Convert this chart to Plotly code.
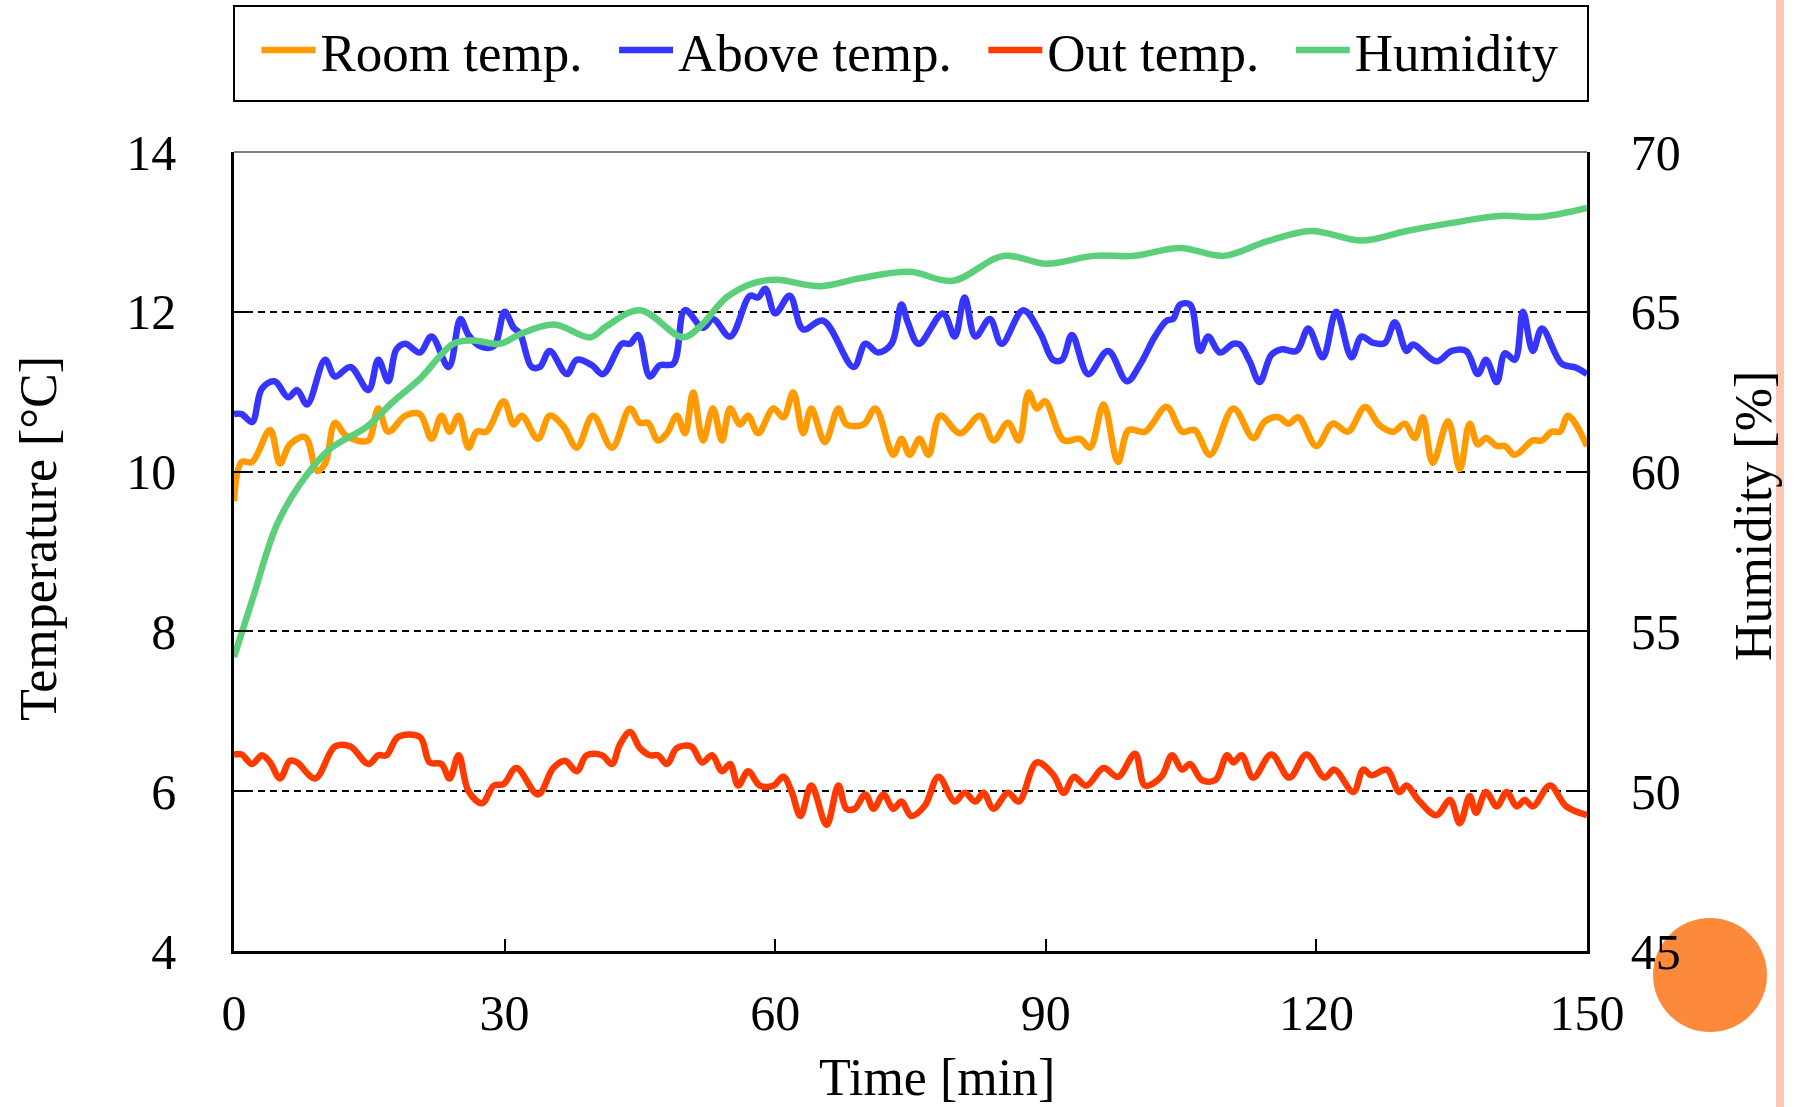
import plotly.graph_objects as go

# ---- data (time in minutes, value) ----
room_temp = [(0,9.63),(0.85,10.12),(2,10.12),(4,10.52),(5.1,10.10),(6.2,10.34),(7.9,10.43),(9.2,10.01),(10.1,10.10),
    (11.2,10.61),(12.3,10.46),(13.6,10.39),(14.9,10.39),(16,10.79),(17.1,10.50),(19,10.70),(20.6,10.72),(21.9,10.41),
    (23,10.70),(23.9,10.50),(24.9,10.70),(26,10.30),(26.9,10.50),(28,10.50),(29.9,10.88),(31,10.59),(31.9,10.70),
    (33.7,10.41),(35,10.70),(36.5,10.57),(38,10.30),(39.8,10.70),(41.9,10.30),(43.9,10.79),(45,10.61),(45.9,10.61),
    (47,10.39),(48,10.48),(49.1,10.70),(50,10.48),(50.9,10.99),(52,10.39),(53.1,10.79),(54.1,10.39),(55,10.79),
    (56.1,10.59),(57,10.70),(58.1,10.48),(59.8,10.79),(60.9,10.68),(62,10.99),(63.1,10.48),(64,10.79),(65.5,10.37),
    (67,10.79),(67.9,10.59),(69.8,10.59),(71.1,10.79),(73.1,10.21),(74,10.41),(74.9,10.21),(76,10.41),(77,10.21),
    (78.3,10.70),(80.5,10.48),(82.7,10.70),(84.2,10.39),(85.8,10.61),(87,10.39),(88.1,10.99),(89,10.79),(89.9,10.88),
    (92,10.39),(93.8,10.41),(94.9,10.30),(96.4,10.84),(98,10.12),(99.2,10.52),(101,10.50),(103.4,10.81),(105.1,10.50),
    (106.5,10.52),(108.2,10.21),(110.8,10.79),(113,10.42),(114.3,10.63),(115.8,10.68),(116.9,10.60),(118,10.68),
    (120,10.32),(121.8,10.60),(123.5,10.50),(125.4,10.81),(127,10.58),(128.5,10.50),(129.8,10.60),(130.9,10.42),
    (131.8,10.68),(132.9,10.11),(134.6,10.63),(135.9,10.03),(137,10.60),(137.9,10.34),(138.8,10.42),(140,10.32),
    (140.9,10.32),(142,10.21),(144,10.39),(145,10.39),(146.1,10.50),(147,10.50),(147.9,10.70),(150,10.32)]

above_temp = [(0,10.72),(0.85,10.72),(2,10.62),(3.1,11.04),(4.5,11.13),(6,10.93),(7,11.02),(8.1,10.84),(10.1,11.40),
    (11.2,11.19),(12.9,11.31),(14.9,11.02),(16,11.40),(17.1,11.13),(18,11.53),(19,11.60),(20.6,11.49),(21.9,11.69),
    (23.8,11.31),(25.1,11.91),(26,11.71),(27.3,11.57),(28.8,11.57),(30,12.0),(31,11.80),(31.7,11.73),(33,11.31),
    (33.9,11.31),(35,11.51),(36.9,11.22),(38,11.40),(39.7,11.33),(40.9,11.22),(43,11.60),(43.9,11.60),(44.8,11.71),
    (46.1,11.19),(47.2,11.33),(48.7,11.35),(50,12.02),(52,11.80),(53.1,11.91),(55,11.69),(57.2,12.20),(58.1,12.18),
    (58.9,12.29),(60,11.98),(61.6,12.20),(63.1,11.78),(65.3,11.89),(68.7,11.31),(70,11.60),(71.4,11.49),(72.9,11.60),
    (74,12.09),(74.7,11.87),(75.9,11.60),(78.6,11.98),(79.9,11.69),(81,12.18),(82.2,11.69),(83.8,11.91),(85.1,11.60),
    (87.5,12.02),(89.4,11.73),(90.8,11.40),(91.8,11.40),(92.9,11.71),(94.7,11.22),(96.9,11.51),(99,11.13),(100.4,11.33),
    (102.1,11.69),(103.4,11.89),(104.1,11.91),(104.9,12.09),(106,12.09),(107.1,11.51),(108,11.69),(109.3,11.49),
    (110.8,11.60),(111.5,11.59),(112.6,11.38),(113.7,11.12),(115,11.46),(116.1,11.53),(117.8,11.51),(119.1,11.79),
    (120.7,11.43),(122.2,12.0),(123.9,11.43),(125,11.69),(126.3,11.61),(127.6,11.61),(128.7,11.87),(130,11.51),
    (130.7,11.59),(133.3,11.38),(135,11.51),(136.6,11.51),(137.9,11.22),(138.8,11.40),(140,11.12),(140.9,11.48),
    (142,11.40),(142.9,12.0),(144,11.51),(145,11.79),(147.2,11.35),(148.8,11.30),(150,11.22)]

out_temp = [(0,6.46),(0.85,6.46),(2,6.34),(3.1,6.45),(4,6.36),(5.1,6.16),(6.2,6.38),(7,6.36),(9,6.16),(11.2,6.56),
    (12.9,6.56),(14.9,6.34),(16,6.45),(16.9,6.45),(18.2,6.68),(20.6,6.68),(21.7,6.36),(23,6.34),(23.9,6.16),(24.9,6.45),
    (26,6.0),(27.5,5.85),(28.8,6.07),(29.9,6.09),(31.3,6.29),(33.7,5.96),(35.4,6.29),(36.7,6.38),(38,6.25),(39.1,6.45),
    (40.8,6.45),(41.9,6.34),(42.8,6.59),(43.9,6.74),(45,6.54),(46.1,6.45),(47,6.45),(48,6.34),(49.1,6.54),(50.7,6.56),
    (51.9,6.36),(53,6.45),(54.1,6.25),(55,6.34),(55.9,6.07),(57,6.25),(58.3,6.07),(59.8,6.07),(60.9,6.18),(61.8,6.0),
    (62.8,5.69),(64,6.07),(65.7,5.58),(67,6.07),(67.9,5.78),(68.8,5.78),(70,5.96),(70.9,5.78),(72,5.96),(73.1,5.78),
    (74,5.87),(75.1,5.69),(76.6,5.82),(78.1,6.18),(79.9,5.87),(81,5.98),(82.2,5.87),(83.1,5.98),(84.2,5.78),(85.8,5.98),
    (87,5.87),(89,6.36),(90.8,6.21),(92,5.98),(93.1,6.18),(94.5,6.07),(96.4,6.29),(98,6.18),(99.9,6.47),(101,6.07),
    (102.8,6.18),(104,6.45),(105.1,6.27),(106,6.34),(107.3,6.14),(108.8,6.14),(110.1,6.45),(110.8,6.36),(111.7,6.45),
    (113,6.17),(115,6.46),(117,6.17),(118.9,6.46),(120.9,6.17),(122,6.27),(124.1,5.99),(125.2,6.27),(126.1,6.20),
    (127.8,6.27),(129.2,5.99),(130,6.07),(131.3,5.89),(133.3,5.70),(134.8,5.89),(135.9,5.60),(137,5.94),(137.7,5.73),
    (138.8,5.99),(140,5.81),(141.1,5.99),(142.2,5.81),(143.1,5.89),(144,5.81),(145.9,6.07),(147.7,5.81),(150,5.70)]

humidity = [(0,54.2),(2.1,56.05),(4.7,58.3),(7.3,59.6),(10.6,60.7),(14.7,61.4),(17.7,62.2),(20.6,62.9),(24.3,64.0),
    (26.5,64.1),(29.5,64.0),(31.7,64.3),(35.5,64.6),(39.5,64.2),(41.3,64.55),(45,65.05),(49.8,64.2),(51.7,64.55),
    (54.6,65.45),(57.6,65.9),(60.2,66.0),(65,65.8),(69.4,66.05),(74.9,66.25),(79.7,65.97),(85.3,66.75),(90.1,66.5),
    (95.3,66.75),(99.7,66.75),(104.9,67.0),(109.7,66.75),(114.5,67.2),(119.4,67.53),(125,67.23),(130,67.53),
    (135.2,67.79),(140.3,68.0),(144.8,67.97),(150,68.25)]

series_names = ["Room temp.", "Above temp.", "Out temp.", "Humidity"]
series_colors = ["#FF9A00", "#3535FF", "#FF3A00", "#5CCF7A"]
x_ticks = [0, 30, 60, 90, 120, 150]
y_ticks = [4, 6, 8, 10, 12, 14]
y2_ticks = [45, 50, 55, 60, 65, 70]

FONT = "Liberation Serif, Times New Roman, serif"
PAD = "\u00a0\u00a0"  # spacing after legend entries

fig = go.Figure()
for data, name, color in zip([room_temp, above_temp, out_temp], series_names[:3], series_colors[:3]):
    xs, ys = zip(*data)
    fig.add_trace(go.Scatter(x=list(xs), y=list(ys), name=name + PAD, mode="lines",
                             line=dict(color=color, width=6.5, shape="spline", smoothing=1.0)))
hx, hy = zip(*humidity)
fig.add_trace(go.Scatter(x=list(hx), y=list(hy), name=series_names[3], mode="lines", yaxis="y2",
                         line=dict(color=series_colors[3], width=6.5, shape="spline", smoothing=1.0)))

W, H = 1797, 1107
L, R, T, B = 234, 210, 152, 156
pw, ph = W - L - R, H - T - B

def px(x):
    return (x - L) / pw

def py(y):
    return (H - B - y) / ph

fig.update_layout(
    width=W, height=H,
    margin=dict(l=L, r=R, t=T, b=B, pad=0, autoexpand=False),
    paper_bgcolor="white", plot_bgcolor="white",
    font=dict(family=FONT, size=50, color="black"),
    showlegend=True,
    legend=dict(orientation="h", x=0.5, xanchor="center", y=py(50), yanchor="middle",
                font=dict(family=FONT, size=53, color="black"), bgcolor="rgba(0,0,0,0)",
                itemwidth=54, traceorder="normal"),
    xaxis=dict(range=[0, 150], tickvals=x_ticks, ticks="inside", ticklen=12, tickwidth=1.5, tickcolor="black",
               showline=True, linecolor="black", linewidth=2.5, showgrid=False, zeroline=False,
               tickfont=dict(family=FONT, size=50), ticklabelstandoff=16),
    yaxis=dict(range=[4, 14], tickvals=y_ticks, ticks="inside", ticklen=15, tickwidth=1.5, tickcolor="black",
               showline=True, linecolor="black", linewidth=2.5, showgrid=True, gridcolor="black",
               gridwidth=1.5, griddash="7px,5px", zeroline=False,
               tickfont=dict(family=FONT, size=50), ticklabelstandoff=45),
    yaxis2=dict(range=[45, 70], tickvals=y2_ticks, overlaying="y", side="right", ticks="inside", ticklen=15,
                tickwidth=1.5, tickcolor="black", showline=True, linecolor="black", linewidth=2.5,
                showgrid=False, zeroline=False, tickfont=dict(family=FONT, size=50), ticklabelstandoff=31),
)

shapes = [
    # top border of plot
    dict(type="line", xref="paper", yref="paper", x0=0, x1=1, y0=1, y1=1, line=dict(color="black", width=1.2)),
    # legend box
    dict(type="rect", xref="paper", yref="paper", x0=0, x1=px(1588), y0=py(101), y1=py(6),
         line=dict(color="black", width=2), fillcolor="rgba(0,0,0,0)"),
    # decorative salmon bar at right edge
    dict(type="rect", xref="paper", yref="paper", x0=px(1776), x1=px(1784), y0=py(H + 5), y1=py(-5),
         line=dict(width=0), fillcolor="#FDC6B2", layer="below"),
    # decorative orange circle
    dict(type="circle", xref="paper", yref="paper", x0=px(1653), x1=px(1767), y0=py(1032), y1=py(918),
         line=dict(width=0), fillcolor="#FC8A3A", layer="below"),
]
fig.update_layout(shapes=shapes)

annotations = [
    dict(text="Time [min]", xref="paper", yref="paper", x=px(937), y=py(1077), xanchor="center", yanchor="middle",
         showarrow=False, font=dict(family=FONT, size=52, color="black")),
    dict(text="Temperature [°C]", xref="paper", yref="paper", x=px(38), y=py(539), xanchor="center",
         yanchor="middle", textangle=-90, showarrow=False, font=dict(family=FONT, size=52, color="black")),
    dict(text="Humidity [%]", xref="paper", yref="paper", x=px(1753), y=py(516), xanchor="center",
         yanchor="middle", textangle=-90, showarrow=False, font=dict(family=FONT, size=52, color="black")),
]
fig.update_layout(annotations=annotations)

fig.write_html("out.html", config={"displayModeBar": False},
               post_script="document.body.style.margin='0';document.body.style.overflow='hidden';")
